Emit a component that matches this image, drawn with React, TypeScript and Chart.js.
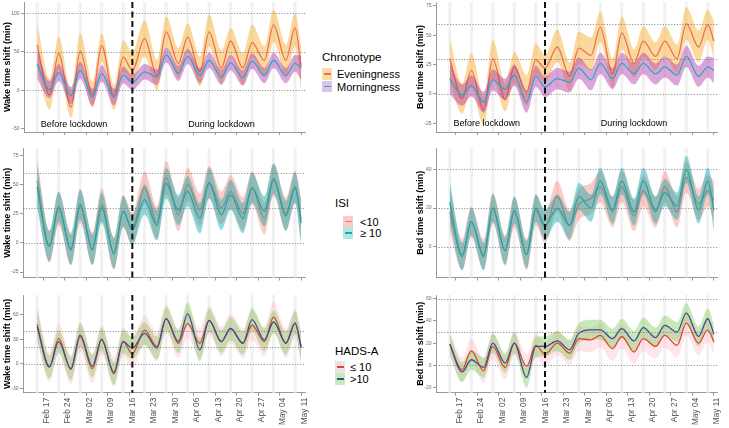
import React, { useEffect, useRef } from 'react';
import { Chart, registerables } from 'chart.js';
Chart.register(...registerables);

const FONT = '"Liberation Sans", Arial, sans-serif';

// Day index: 0 = Sat Feb 15 2020
const days = [0, 4, 7, 11, 14, 18, 21, 25, 28, 31, 35, 39, 42, 46, 49, 53, 56, 60, 63, 67, 70, 74, 77, 81, 84, 86];
const tickDays = [2, 9, 16, 23, 30, 37, 44, 51, 58, 65, 72, 79, 86];
const tickLabels = ['Feb 17', 'Feb 24', 'Mar 02', 'Mar 09', 'Mar 16', 'Mar 23', 'Mar 30', 'Apr 06', 'Apr 13', 'Apr 20', 'Apr 27', 'May 04', 'May 11'];
const saturdays = [0, 7, 14, 21, 28, 35, 42, 49, 56, 63, 70, 77, 84];
const lockdownDay = 31;
const phaseLabels = ['Before lockdown', 'During lockdown'];
const phaseDays = [12, 60];

// Top-left: Wake time shift by chronotype
const tlEveMean = [59, -6, 48, -22, 51, -6, 58, -8, 43, 26, 67, 19, 76, 35, 69, 24, 76, 29, 64, 29, 62, 39, 85, 39, 81, 31];
const tlEveLo = [29, -25, 26, -36, 31, -23, 37, -26, 24, 11, 44, 0, 57, 16, 50, 5, 57, 9, 44, 7, 42, 18, 63, 18, 57, 0];
const tlEveHi = [87, 15, 70, 0, 74, 11, 74, 7, 65, 50, 91, 39, 96, 55, 87, 44, 98, 52, 81, 48, 85, 57, 105, 59, 100, 57];
const tlMorMean = [34, 1, 23, -7, 26, -9, 22, -9, 20, 10, 24, 17, 46, 22, 44, 19, 39, 17, 36, 16, 38, 19, 39, 19, 35, 29];
const tlMorLo = [15, -10, 12, -18, 15, -20, 11, -20, 9, 0, 14, 7, 36, 12, 34, 9, 29, 7, 26, 6, 28, 9, 29, 9, 24, 13];
const tlMorHi = [52, 12, 34, 4, 37, 2, 33, 2, 31, 20, 34, 27, 56, 32, 54, 29, 49, 27, 46, 26, 48, 29, 49, 29, 46, 45];

// Top-right: Bed time shift by chronotype
const trEveMean = [30, -4, 20, -14, 30, -5, 23, 2, 29, 22, 40, 15, 39, 33, 57, 17, 52, 26, 45, 32, 45, 30, 60, 40, 59, 45];
const trEveLo = [9, -17, 5, -27, 13, -15, 9, -10, 16, 10, 27, 3, 26, 20, 44, 5, 38, 14, 32, 20, 32, 18, 46, 27, 46, 30];
const trEveHi = [47, 9, 35, -3, 46, 9, 36, 16, 43, 33, 55, 27, 53, 48, 70, 30, 66, 38, 58, 44, 58, 42, 74, 54, 72, 62];
const trMorMean = [13, -1, 7, -7, 12, 4, 16, -7, 15, 6, 13, 10, 22, 12, 26, 13, 26, 17, 26, 17, 23, 16, 32, 15, 23, 20];
const trMorLo = [0, -10, -2, -16, 3, -5, 7, -16, 6, -3, 4, 1, 13, 3, 17, 4, 17, 8, 17, 8, 14, 7, 23, 6, 14, 9];
const trMorHi = [26, 8, 16, 2, 21, 13, 25, 2, 24, 15, 22, 19, 31, 21, 35, 22, 35, 26, 35, 26, 32, 25, 41, 24, 32, 31];

// Middle-left: Wake time shift by ISI
const mlLowMean = [53, -3, 29, -5, 31, -5, 33, -9, 27, 12, 47, 17, 56, 24, 50, 28, 52, 30, 44, 25, 47, 21, 54, 25, 48, 20];
const mlLowLo = [33, -17, 15, -19, 17, -19, 19, -23, 13, -2, 33, 3, 42, 10, 36, 14, 38, 16, 30, 11, 33, 7, 40, 11, 34, 2];
const mlLowHi = [72, 11, 43, 9, 45, 9, 47, 5, 41, 26, 61, 31, 70, 38, 64, 42, 66, 44, 58, 39, 61, 35, 68, 39, 62, 38];
const mlHighMean = [48, -3, 31, -6, 33, -6, 30, -9, 27, 11, 37, 15, 51, 28, 44, 21, 51, 24, 41, 21, 47, 27, 55, 23, 47, 17];
const mlHighLo = [30, -16, 18, -19, 20, -19, 17, -22, 14, -2, 24, 2, 38, 15, 31, 8, 38, 11, 28, 8, 34, 14, 42, 10, 34, -2];
const mlHighHi = [66, 10, 44, 7, 46, 7, 43, 4, 40, 24, 50, 28, 64, 41, 57, 34, 64, 37, 54, 34, 60, 40, 68, 36, 60, 36];

// Middle-right: Bed time shift by ISI
const mrLowMean = [18, -4, 13, -4, 20, -2, 18, -4, 19, 10, 26, 11, 22, 25, 31, 18, 31, 16, 29, 18, 31, 18, 36, 22, 29, 24];
const mrLowLo = [8, -12, 5, -12, 12, -10, 10, -12, 11, 2, 18, 3, 14, 17, 23, 10, 23, 8, 21, 10, 23, 10, 28, 14, 21, 14];
const mrLowHi = [30, 4, 21, 4, 28, 6, 26, 4, 27, 18, 34, 19, 30, 33, 39, 26, 39, 24, 37, 26, 39, 26, 44, 30, 37, 34];
const mrHighMean = [23, -5, 13, -5, 20, -2, 19, -4, 20, 11, 20, 11, 26, 20, 34, 19, 34, 18, 34, 19, 28, 21, 40, 19, 34, 19];
const mrHighLo = [12, -12, 6, -12, 13, -9, 12, -11, 13, 4, 13, 4, 19, 13, 27, 12, 27, 11, 27, 12, 21, 14, 33, 12, 27, 8];
const mrHighHi = [34, 2, 20, 2, 27, 5, 26, 3, 27, 19, 27, 18, 33, 27, 41, 26, 41, 25, 41, 26, 35, 28, 47, 26, 41, 30];

// Bottom-left: Wake time shift by HADS-A
const blLowMean = [48, -4, 31, -7, 33, -6, 29, -10, 27, 12, 41, 21, 55, 25, 49, 25, 53, 27, 43, 25, 47, 27, 57, 25, 49, 21];
const blLowLo = [28, -22, 13, -25, 15, -24, 11, -28, 9, -6, 23, 3, 37, 7, 31, 7, 35, 9, 25, 7, 29, 9, 39, 7, 31, 3];
const blLowHi = [70, 14, 49, 11, 51, 12, 47, 8, 45, 30, 59, 39, 73, 43, 67, 43, 71, 45, 61, 43, 65, 45, 75, 43, 67, 39];
const blHighMean = [45, -4, 27, -6, 35, -3, 30, -12, 27, 19, 37, 19, 55, 27, 61, 17, 53, 27, 43, 25, 54, 29, 51, 25, 50, 19];
const blHighLo = [28, -18, 13, -20, 21, -17, 16, -26, 13, 5, 23, 5, 41, 13, 47, 3, 39, 13, 29, 11, 40, 15, 37, 11, 36, 0];
const blHighHi = [66, 10, 41, 8, 49, 11, 44, 2, 41, 33, 51, 33, 69, 41, 75, 31, 67, 41, 57, 39, 68, 43, 65, 39, 64, 38];

// Bottom-right: Bed time shift by HADS-A
const brLowMean = [19, -4, 13, -5, 17, -2, 20, -1, 18, 10, 20, 11, 24, 23, 27, 15, 26, 12, 24, 17, 27, 18, 38, 20, 32, 21];
const brLowLo = [8, -15, 2, -16, 6, -13, 9, -12, 7, -1, 9, 0, 13, 12, 16, 4, 15, 1, 13, 6, 16, 7, 27, 9, 21, 10];
const brLowHi = [30, 7, 24, 6, 28, 9, 31, 10, 29, 21, 31, 22, 35, 34, 38, 26, 37, 23, 35, 28, 38, 29, 49, 31, 43, 32];
const brHighMean = [19, -6, 5, -2, 20, 2, 20, -11, 17, 17, 22, 14, 29, 32, 32, 24, 33, 22, 34, 25, 36, 30, 47, 26, 42, 28];
const brHighLo = [10, -15, -4, -11, 11, -7, 11, -20, 8, 8, 13, 5, 20, 23, 23, 15, 24, 13, 25, 16, 27, 21, 38, 17, 33, 19];
const brHighHi = [28, 3, 14, 7, 29, 11, 29, -2, 26, 26, 31, 23, 38, 41, 41, 33, 42, 31, 43, 34, 45, 39, 56, 35, 51, 37];

// Axis ticks and reference lines
const tlTicks = [-50, 0, 50, 100];
const mlTicks = [-25, 0, 25, 50, 75];
const blTicks = [-30, 0, 30, 60];
const trTicks = [-25, 0, 25, 50, 75];
const mrTicks = [0, 20, 40];
const brTicks = [-20, 0, 20, 40, 60];
const tlRefs = [0, 50, 100];
const mlRefs = [0, 30, 60];
const blRefs = [0, 20, 40];
const trRefs = [0, 30, 60];
const mrRefs = [0, 20, 40];
const brRefs = [0, 30, 60];

const wakeTitle = 'Wake time shift (min)';
const bedTitle = 'Bed time shift (min)';

const chronoTitle = 'Chronotype';
const chronoLabels = ['Eveningness', 'Morningness'];
const isiTitle = 'ISI';
const isiLabels = ['<10', '≥ 10'];
const hadsTitle = 'HADS-A';
const hadsLabels = ['≤ 10', '>10'];

const C = {
  eveFill: 'rgba(247,180,60,0.5)', eveLine: '#EE6F56',
  morFill: 'rgba(172,40,165,0.42)', morLine: '#2BA8BE',
  isiLowFill: 'rgba(248,118,109,0.38)', isiLowLine: '#F0766E',
  isiHighFill: 'rgba(0,165,165,0.42)', isiHighLine: '#1AA8A8',
  hadsLowFill: 'rgba(255,170,190,0.3)', hadsLowLine: '#D9472B',
  hadsHighFill: 'rgba(120,200,80,0.4)', hadsHighLine: '#3B4C9C',
};

type Series = { mean: number[]; lo: number[]; hi: number[]; line: string; fill: string };
type PanelCfg = {
  left: number; top: number; w: number; h: number;
  yAxisW: number; xAxisH: number; padTop: number; padRight: number;
  xMin: number; xMax: number; yMin: number; yMax: number;
  yTicks: number[]; refs: number[]; title: string; titlePad: number;
  showX: boolean; series: Series[]; linesLast: boolean;
  phaseY?: number;
};

const pts = (arr: number[]) => days.map((d, i) => ({ x: d, y: arr[i] }));

function buildDatasets(series: Series[], linesLast: boolean) {
  const ds: any[] = [];
  let order = 100;
  const base = { pointRadius: 0, cubicInterpolationMode: 'monotone', borderWidth: 0 };
  const bands = series.map((s) => {
    const loIdx = ds.length;
    ds.push({ ...base, data: pts(s.lo), borderColor: 'rgba(0,0,0,0)', fill: false, order: 0 });
    ds.push({ ...base, data: pts(s.hi), borderColor: 'rgba(0,0,0,0)', backgroundColor: s.fill, fill: { target: loIdx }, order: 0 });
    return [loIdx, loIdx + 1];
  });
  const lineIdx = series.map((s) => {
    ds.push({ ...base, data: pts(s.mean), borderColor: s.line, borderWidth: 1.3, fill: false, order: 0 });
    return ds.length - 1;
  });
  if (linesLast) {
    series.forEach((_, i) => { ds[bands[i][0]].order = order--; ds[bands[i][1]].order = order--; });
    series.forEach((_, i) => { ds[lineIdx[i]].order = order--; });
  } else {
    series.forEach((_, i) => {
      ds[bands[i][0]].order = order--; ds[bands[i][1]].order = order--; ds[lineIdx[i]].order = order--;
    });
  }
  return ds;
}

function decorPlugin(cfg: PanelCfg) {
  return {
    id: 'decor',
    beforeDatasetsDraw(chart: any) {
      const { ctx, chartArea: a, scales } = chart;
      const x = scales.x;
      ctx.save();
      ctx.fillStyle = '#F1F1F1';
      saturdays.forEach((d) => {
        const x0 = x.getPixelForValue(d - 0.5);
        const x1 = x.getPixelForValue(d + 0.5);
        ctx.fillRect(x0, a.top, x1 - x0, a.bottom - a.top);
      });
      ctx.restore();
    },
    afterDatasetsDraw(chart: any) {
      const { ctx, chartArea: a, scales } = chart;
      const x = scales.x, y = scales.y;
      ctx.save();
      ctx.strokeStyle = '#7a7a7a';
      ctx.lineWidth = 0.8;
      ctx.setLineDash([1.2, 1.6]);
      cfg.refs.forEach((v) => {
        const py = Math.round(y.getPixelForValue(v)) + 0.5;
        ctx.beginPath(); ctx.moveTo(a.left, py); ctx.lineTo(a.right, py); ctx.stroke();
      });
      ctx.strokeStyle = '#111';
      ctx.lineWidth = 2;
      ctx.setLineDash([6, 3.5]);
      const lx = x.getPixelForValue(lockdownDay);
      ctx.beginPath(); ctx.moveTo(lx, a.top); ctx.lineTo(lx, a.bottom); ctx.stroke();
      if (cfg.phaseY !== undefined) {
        ctx.setLineDash([]);
        ctx.fillStyle = '#000';
        ctx.font = `9px ${FONT}`;
        ctx.textAlign = 'center';
        ctx.textBaseline = 'middle';
        phaseLabels.forEach((t, i) => {
          ctx.fillText(t, x.getPixelForValue(phaseDays[i]), y.getPixelForValue(cfg.phaseY));
        });
      }
      ctx.restore();
    },
  };
}

function Panel({ cfg }: { cfg: PanelCfg }) {
  const ref = useRef<HTMLCanvasElement>(null);
  useEffect(() => {
    const axisGrid = { drawOnChartArea: false, drawTicks: true, tickLength: 3, color: '#7f7f7f', lineWidth: 0.8 };
    const border = { display: true, color: '#7f7f7f', width: 0.8 };
    const chart = new Chart(ref.current!, {
      type: 'line',
      data: { datasets: buildDatasets(cfg.series, cfg.linesLast) },
      plugins: [decorPlugin(cfg)],
      options: {
        responsive: false,
        animation: false,
        devicePixelRatio: 1,
        layout: { padding: { left: 0, right: cfg.padRight, top: cfg.padTop, bottom: 0 } },
        plugins: { legend: { display: false }, tooltip: { enabled: false } },
        scales: {
          x: {
            type: 'linear', min: cfg.xMin, max: cfg.xMax,
            afterBuildTicks: (s: any) => { s.ticks = tickDays.map((v) => ({ value: v })); },
            afterFit: (s: any) => { s.height = cfg.xAxisH; s.paddingLeft = 0; s.paddingRight = 0; },
            ticks: {
              display: cfg.showX, autoSkip: false, minRotation: 90, maxRotation: 90, labelOffset: 3.3,
              font: { size: 8.3, family: FONT }, color: '#4d4d4d', padding: 2,
              callback: (v: any) => tickLabels[tickDays.indexOf(Number(v))] ?? '',
            },
            grid: axisGrid, border,
          },
          y: {
            type: 'linear', min: cfg.yMin, max: cfg.yMax,
            afterBuildTicks: (s: any) => { s.ticks = cfg.yTicks.map((v) => ({ value: v })); },
            afterFit: (s: any) => { s.width = cfg.yAxisW; s.paddingTop = 0; s.paddingBottom = 0; },
            ticks: { font: { size: 5, family: FONT }, color: '#6b6b6b', padding: 1.5, callback: (v: any) => String(v) },
            grid: axisGrid, border,
            title: {
              display: true, text: cfg.title, color: '#000',
              font: { size: 9, weight: 'bold', family: FONT },
              padding: { top: cfg.titlePad, bottom: 0 },
            },
          },
        },
      } as any,
    });
    return () => chart.destroy();
  }, []);
  return (
    <canvas ref={ref} width={cfg.w} height={cfg.h}
      style={{ position: 'absolute', left: cfg.left, top: cfg.top, width: cfg.w, height: cfg.h }} />
  );
}

const leftCol = { left: 0, w: 312, padRight: 6.8, xMax: 87.3, title: wakeTitle, titlePad: 2.1 };
const rightCol = { left: 410, w: 319, padRight: 11.1, xMax: 87.3, title: bedTitle, titlePad: 5.6, yAxisW: 26, xMin: -4.5 };
const topRow = { top: 0, h: 140, padTop: 2, xAxisH: 8, showX: false };
const midRow = { top: 140, h: 145, padTop: 8, xAxisH: 7.5, showX: false };
const botRow = { top: 285, h: 143, padTop: 10, xAxisH: 35.3, showX: true };

const panels: PanelCfg[] = [
  { ...leftCol, ...topRow, yAxisW: 24, xMin: -4.3, yMin: -54.2, yMax: 114.7, yTicks: tlTicks, refs: tlRefs, phaseY: -45, linesLast: false,
    series: [
      { mean: tlEveMean, lo: tlEveLo, hi: tlEveHi, line: C.eveLine, fill: C.eveFill },
      { mean: tlMorMean, lo: tlMorLo, hi: tlMorHi, line: C.morLine, fill: C.morFill },
    ] },
  { ...leftCol, ...midRow, yAxisW: 23, xMin: -4.6, yMin: -29.7, yMax: 81.2, yTicks: mlTicks, refs: mlRefs, linesLast: false,
    series: [
      { mean: mlLowMean, lo: mlLowLo, hi: mlLowHi, line: C.isiLowLine, fill: C.isiLowFill },
      { mean: mlHighMean, lo: mlHighLo, hi: mlHighHi, line: C.isiHighLine, fill: C.isiHighFill },
    ] },
  { ...leftCol, ...botRow, yAxisW: 23, xMin: -4.6, yMin: -35.5, yMax: 84, yTicks: blTicks, refs: blRefs, linesLast: true,
    series: [
      { mean: blLowMean, lo: blLowLo, hi: blLowHi, line: C.hadsLowLine, fill: C.hadsLowFill },
      { mean: blHighMean, lo: blHighLo, hi: blHighHi, line: C.hadsHighLine, fill: C.hadsHighFill },
    ] },
  { ...rightCol, ...topRow, yMin: -32.5, yMax: 78.4, yTicks: trTicks, refs: trRefs, phaseY: -25, linesLast: false,
    series: [
      { mean: trEveMean, lo: trEveLo, hi: trEveHi, line: C.eveLine, fill: C.eveFill },
      { mean: trMorMean, lo: trMorLo, hi: trMorHi, line: C.morLine, fill: C.morFill },
    ] },
  { ...rightCol, ...midRow, yMin: -15.8, yMax: 51, yTicks: mrTicks, refs: mrRefs, linesLast: false,
    series: [
      { mean: mrLowMean, lo: mrLowLo, hi: mrLowHi, line: C.isiLowLine, fill: C.isiLowFill },
      { mean: mrHighMean, lo: mrHighLo, hi: mrHighHi, line: C.isiHighLine, fill: C.isiHighFill },
    ] },
  { ...rightCol, ...botRow, yMin: -24.7, yMax: 63.4, yTicks: brTicks, refs: brRefs, linesLast: true,
    series: [
      { mean: brLowMean, lo: brLowLo, hi: brLowHi, line: C.hadsLowLine, fill: C.hadsLowFill },
      { mean: brHighMean, lo: brHighLo, hi: brHighHi, line: C.hadsHighLine, fill: C.hadsHighFill },
    ] },
];

type LegendCfg = { title: string; labels: string[]; lines: string[]; fills: string[]; titleX: number; titleY: number; keyX: number; labelX: number; rowY: number[] };
const legends: LegendCfg[] = [
  { title: chronoTitle, labels: chronoLabels, lines: [C.eveLine, C.morLine], fills: ['rgba(247,180,60,0.45)', 'rgba(150,60,175,0.3)'], titleX: 322, titleY: 57, keyX: 322, labelX: 337, rowY: [74, 86.5] },
  { title: isiTitle, labels: isiLabels, lines: [C.isiLowLine, C.isiHighLine], fills: [C.isiLowFill, 'rgba(0,165,165,0.3)'], titleX: 335, titleY: 203, keyX: 343, labelX: 360, rowY: [221.5, 233] },
  { title: hadsTitle, labels: hadsLabels, lines: [C.hadsLowLine, C.hadsHighLine], fills: ['rgba(215,195,205,0.5)', C.hadsHighFill], titleX: 335, titleY: 351, keyX: 335, labelX: 350, rowY: [367, 379] },
];

function Legend({ cfg }: { cfg: LegendCfg }) {
  const text = { position: 'absolute' as const, fontFamily: FONT, color: '#000', whiteSpace: 'nowrap' as const, height: 14, lineHeight: '14px' };
  return (
    <>
      <div style={{ ...text, left: cfg.titleX, top: cfg.titleY - 7, fontSize: 11.5 }}>{cfg.title}</div>
      {cfg.labels.map((l, i) => (
        <React.Fragment key={l}>
          <div style={{ position: 'absolute', left: cfg.keyX, top: cfg.rowY[i] - 6, width: 10, height: 11.5, background: cfg.fills[i] }}>
            <div style={{ position: 'absolute', left: 1.5, top: 5, width: 7, height: 1.5, background: cfg.lines[i] }} />
          </div>
          <div style={{ ...text, left: cfg.labelX, top: cfg.rowY[i] - 7, fontSize: 11 }}>{l}</div>
        </React.Fragment>
      ))}
    </>
  );
}

export default function App() {
  return (
    <div style={{ position: 'absolute', left: 0, top: 0, width: 729, height: 428, background: '#fff', overflow: 'hidden' }}>
      {panels.map((p, i) => <Panel key={i} cfg={p} />)}
      {legends.map((l, i) => <Legend key={i} cfg={l} />)}
    </div>
  );
}
